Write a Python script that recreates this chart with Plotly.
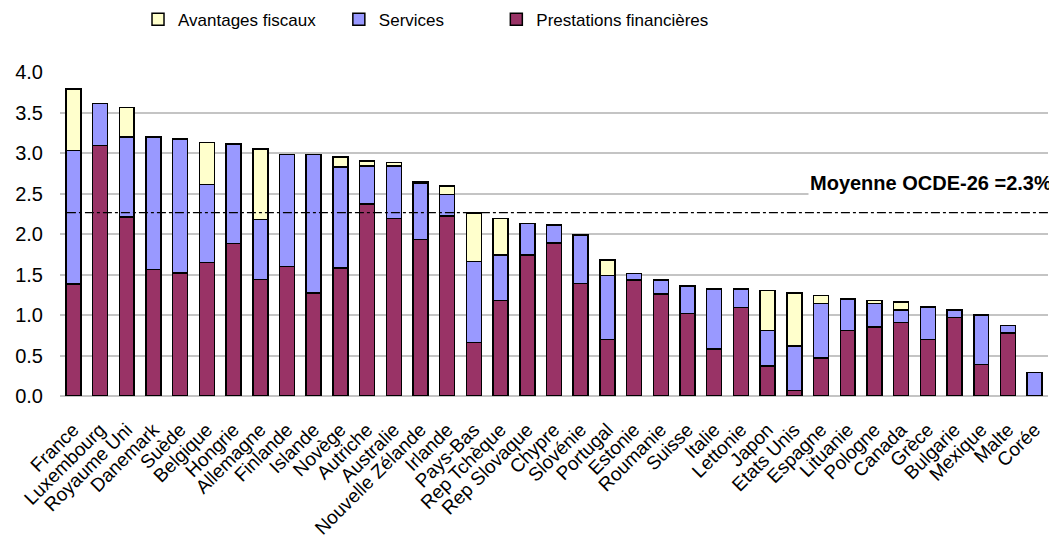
import plotly.graph_objects as go

pays = ["France", "Luxembourg", "Royaume Uni", "Danemark", "Suède", "Belgique", "Hongrie",
        "Allemagne", "Finlande", "Islande", "Novège", "Autriche", "Australie",
        "Nouvelle Zélande", "Irlande", "Pays-Bas", "Rep Tchèque", "Rep Slovaque", "Chypre",
        "Slovénie", "Portugal", "Estonie", "Roumanie", "Suisse", "Italie", "Lettonie",
        "Japon", "Etats Unis", "Espagne", "Lituanie", "Pologne", "Canada", "Grèce",
        "Bulgarie", "Mexique", "Malte", "Corée"]

prestations = [1.38, 3.09, 2.21, 1.56, 1.52, 1.65, 1.88, 1.44, 1.60, 1.27, 1.58, 2.37, 2.19,
               1.93, 2.22, 0.66, 1.18, 1.74, 1.89, 1.39, 0.70, 1.43, 1.26, 1.02, 0.58, 1.09,
               0.37, 0.07, 0.47, 0.81, 0.85, 0.91, 0.70, 0.97, 0.39, 0.78, 0.00]
services = [1.65, 0.52, 0.99, 1.64, 1.65, 0.96, 1.23, 0.74, 1.38, 1.71, 1.25, 0.47, 0.65,
            0.70, 0.27, 1.00, 0.56, 0.39, 0.22, 0.60, 0.79, 0.08, 0.17, 0.34, 0.74, 0.23,
            0.44, 0.55, 0.67, 0.39, 0.29, 0.15, 0.40, 0.09, 0.61, 0.09, 0.29]
avantages = [0.76, 0.00, 0.36, 0.00, 0.00, 0.52, 0.00, 0.87, 0.00, 0.00, 0.12, 0.06, 0.04,
             0.02, 0.10, 0.60, 0.45, 0.00, 0.00, 0.00, 0.19, 0.00, 0.00, 0.00, 0.00, 0.00,
             0.49, 0.65, 0.10, 0.00, 0.04, 0.10, 0.00, 0.00, 0.00, 0.00, 0.00]

moyenne = 2.263
moyenne_label = "Moyenne OCDE-26 =2.3%"
y_ticks = [0.0, 0.5, 1.0, 1.5, 2.0, 2.5, 3.0, 3.5, 4.0]

FONT = "Liberation Sans, Arial, sans-serif"

fig = go.Figure()
fig.add_trace(go.Bar(x=pays, y=prestations, name="Prestations financières",
                     marker=dict(color="#993366", line=dict(color="black", width=1.5)),
                     legend="legend4"))
fig.add_trace(go.Bar(x=pays, y=services, name="Services",
                     marker=dict(color="#9999FF", line=dict(color="black", width=1.5)),
                     legend="legend3"))
fig.add_trace(go.Bar(x=pays, y=avantages, name="Avantages fiscaux",
                     marker=dict(color="#FFFFCC", line=dict(color="black", width=1.5)),
                     legend="legend2"))

fig.add_shape(type="line", xref="paper", x0=0.007, x1=1.005, yref="y", y0=moyenne, y1=moyenne,
              line=dict(color="black", width=1.2, dash="dashdot"))
fig.add_annotation(text="<b>" + moyenne_label + "</b>", xref="paper", x=1.006, xanchor="right",
                   yref="y", y=2.63, showarrow=False, bgcolor="white",
                   font=dict(family=FONT, size=20, color="black"))

leg_common = dict(orientation="h", yref="container", yanchor="middle", y=0.978,
                  xref="container", xanchor="left", bgcolor="rgba(0,0,0,0)",
                  font=dict(family=FONT, size=17, color="black"),
                  itemwidth=30, visible=True)
fig.update_layout(
    barmode="stack",
    bargap=0.44,
    showlegend=True,
    width=1057, height=537,
    margin=dict(l=52, r=17, t=64, b=149, autoexpand=False),
    paper_bgcolor="white", plot_bgcolor="white",
    font=dict(family=FONT, size=19, color="black"),
    legend=dict(visible=False),
    legend2=dict(leg_common, x=0.123),
    legend3=dict(leg_common, x=0.313),
    legend4=dict(leg_common, x=0.462),
    xaxis=dict(tickangle=-45, tickfont=dict(family=FONT, size=19, color="black"),
               showgrid=False, showline=False, ticks="", ticklabelstandoff=18,
               automargin=False),
    yaxis=dict(range=[0, 4.0], tickvals=y_ticks, tickformat=".1f",
               showgrid=True, gridcolor="#c4c4c4", gridwidth=1.5,
               zeroline=True, zerolinecolor="#c4c4c4", zerolinewidth=1.5,
               tickfont=dict(family=FONT, size=20, color="black"),
               ticklabelstandoff=16, showline=False, automargin=False),
)

fig.write_html("out.html")
